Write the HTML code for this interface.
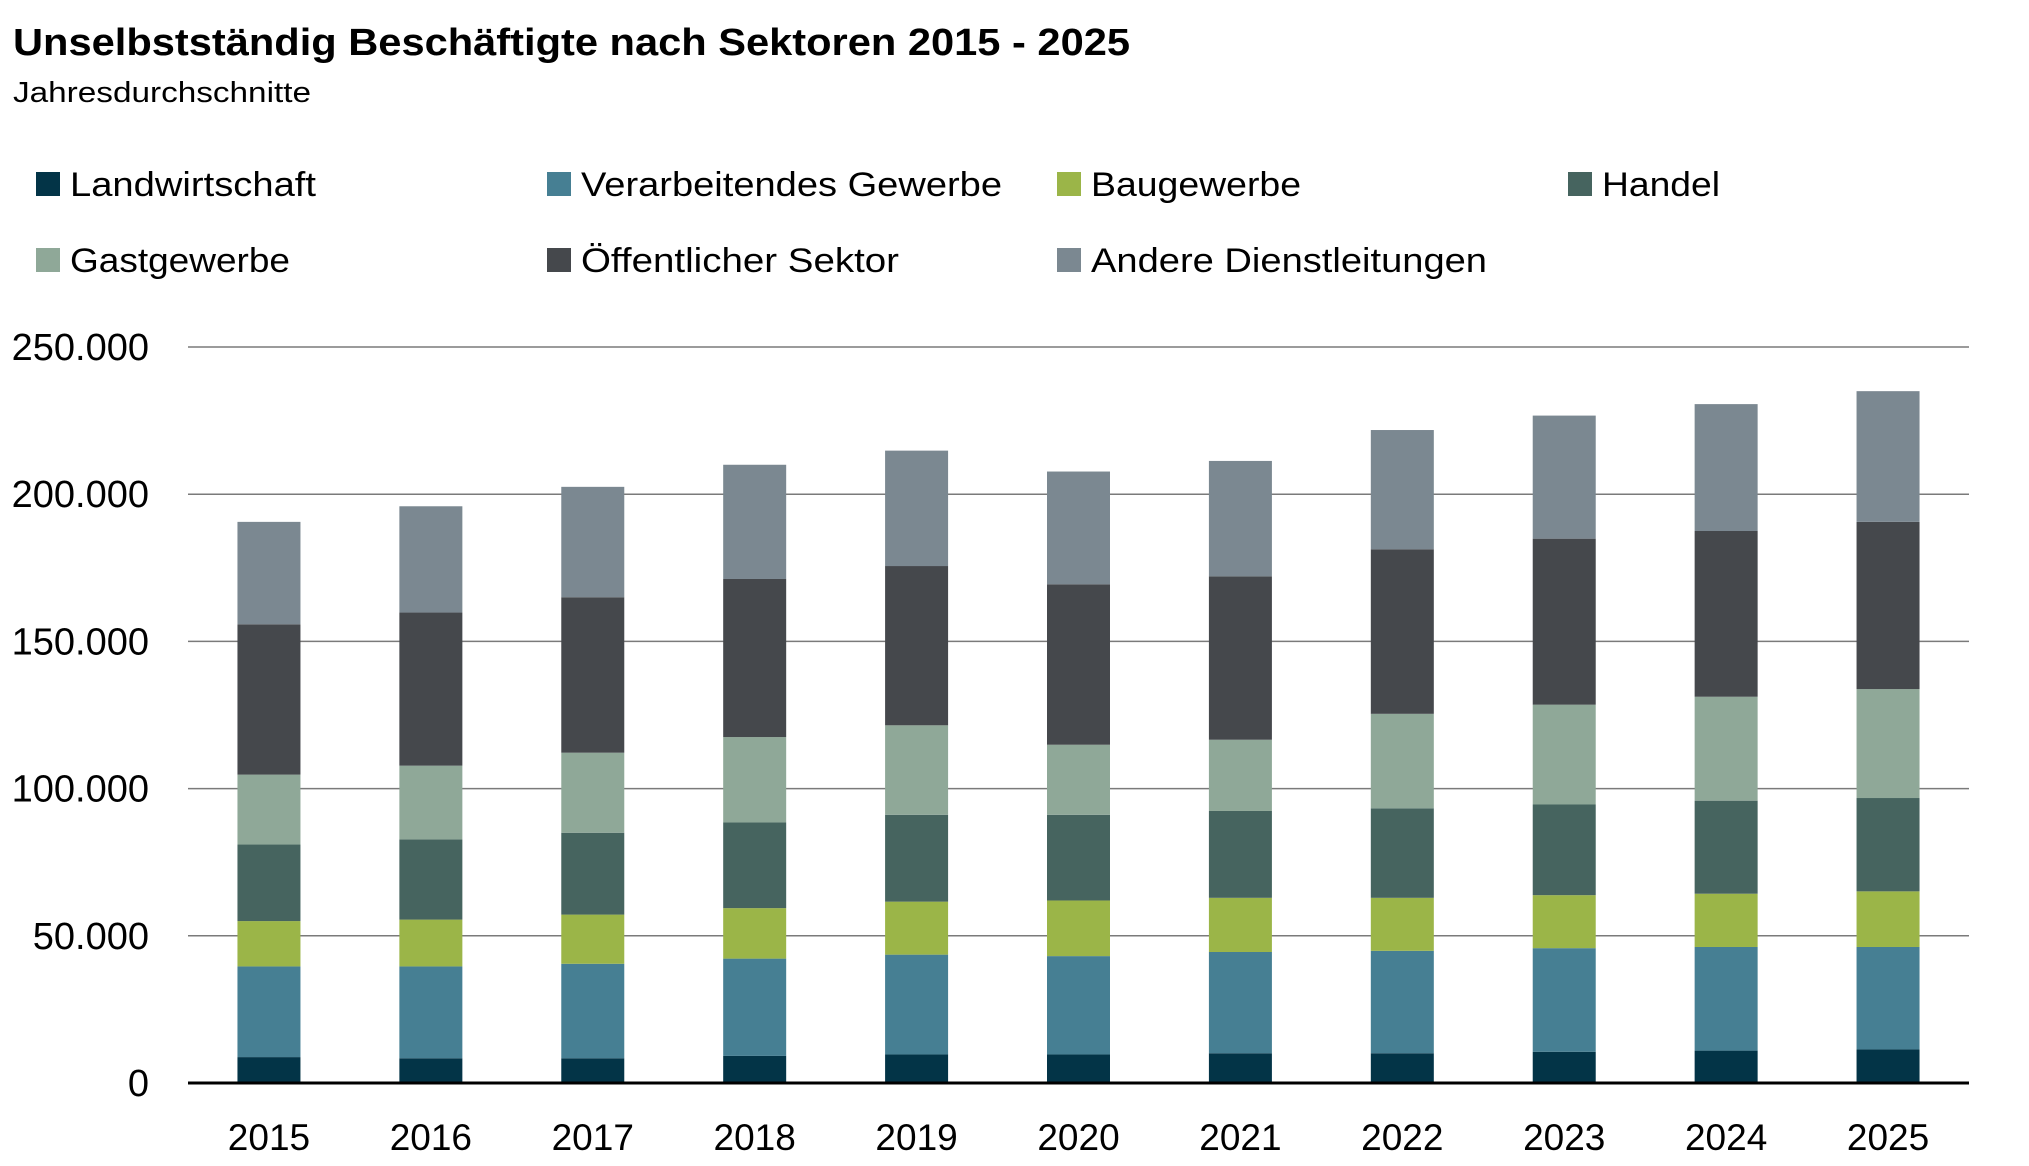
<!DOCTYPE html>
<html><head><meta charset="utf-8"><style>
html,body{margin:0;padding:0;background:#fff}
svg{display:block;font-family:"Liberation Sans",sans-serif}
</style></head><body>
<svg id="chart" width="2029" height="1166" viewBox="0 0 2029 1166" xmlns="http://www.w3.org/2000/svg">
<text x="13" y="55" font-size="38" font-weight="bold" textLength="1117" lengthAdjust="spacingAndGlyphs">Unselbstständig Beschäftigte nach Sektoren 2015 - 2025</text>
<text x="13" y="102" font-size="29" textLength="298" lengthAdjust="spacingAndGlyphs">Jahresdurchschnitte</text>
<g id="legend"></g>
<g id="grid"></g>
<g id="bars"></g>
<g id="yticks"></g>
<g id="xticks"></g>
</svg>
<script>
const categories = ["2015","2016","2017","2018","2019","2020","2021","2022","2023","2024","2025"];
const seriesNames = ["Landwirtschaft","Verarbeitendes Gewerbe","Baugewerbe","Handel","Gastgewerbe","Öffentlicher Sektor","Andere Dienstleitungen"];
const landwirtschaft = [8800,8400,8400,9200,9700,9700,10100,10100,10600,11000,11400];
const verarbeitend = [30800,31200,32100,33050,33900,33400,34400,34800,35200,35200,34800];
const baugewerbe = [15400,15900,16700,17150,18000,18900,18400,18000,18000,18100,18900];
const handel = [26000,27200,27800,29100,29500,29100,29500,30400,30800,31600,31700];
const gastgewerbe = [23750,25100,27200,29000,30400,23800,24200,32100,33900,35300,37000];
const oeffentlich = [51050,52000,52800,53700,54100,54500,55500,55900,56400,56300,56800];
const andere = [34800,36100,37500,38800,39200,38300,39200,40500,41800,43100,44400];
const yTicks = [0,50000,100000,150000,200000,250000];
const yTickLabels = ["0","50.000","100.000","150.000","200.000","250.000"];

const series = [landwirtschaft,verarbeitend,baugewerbe,handel,gastgewerbe,oeffentlich,andere];
const colors = ["#033447","#467f93","#9bb548","#46645f","#8fa898","#45484c","#7b8891"];
const NS="http://www.w3.org/2000/svg";
const L=188,R=1969,Y0=1083,Ytop=347,YMAX=250000;
const band=(R-L)/categories.length, barW=63;
const y=v=>Y0-(v/YMAX)*(Y0-Ytop);
const xc=i=>L+band*(i+0.5);
function mk(tag,attrs,parent){const e=document.createElementNS(NS,tag);for(const k in attrs)e.setAttribute(k,attrs[k]);parent.appendChild(e);return e;}

const grid=document.getElementById('grid'), yt=document.getElementById('yticks');
yTicks.forEach((t,i)=>{
  if(t>0){const ln=mk('line',{x1:L,x2:R,y1:y(t),y2:y(t),stroke:'#7a7a7a','stroke-width':1.5},grid);
  
  }
  const tx=mk('text',{x:149,y:y(t)+13,'font-size':38,'text-anchor':'end'},yt);
  tx.textContent=yTickLabels[i];
  
  
});

const bars=document.getElementById('bars');
categories.forEach((c,i)=>{
  let cum=0;
  series.forEach((s,k)=>{
    const v=s[i];
    const r=mk('rect',{x:xc(i)-barW/2,y:y(cum+v),width:barW,height:y(cum)-y(cum+v),fill:colors[k]},bars);
    
    
    cum+=v;
  });
});
const axis=mk('line',{x1:L,x2:R,y1:Y0,y2:Y0,stroke:'#000','stroke-width':3},bars);



const xt=document.getElementById('xticks');
categories.forEach((c,i)=>{
  const t=mk('text',{x:xc(i),y:1150,'font-size':37,'text-anchor':'middle'},xt);
  t.textContent=c;
  
  
});

const leg=document.getElementById('legend');
const legPos=[[36,184],[547,184],[1057,184],[1568,184],[36,260],[547,260],[1057,260]];
const legW=[246,421,210,118,220,318,396];
seriesNames.forEach((n,k)=>{
  const [lx,ly]=legPos[k];
  const sq=mk('rect',{x:lx,y:ly-12,width:24,height:24,fill:colors[k]},leg);
  
  
  const t=mk('text',{x:lx+34,y:ly+12,'font-size':34,textLength:legW[k],lengthAdjust:'spacingAndGlyphs'},leg);
  t.textContent=n;
  
  
});
</script>
</body></html>
